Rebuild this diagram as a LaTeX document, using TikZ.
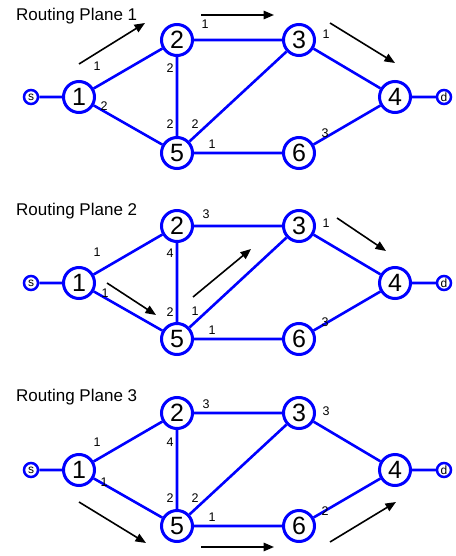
\documentclass[tikz,border=0pt]{standalone}
\usepackage{fontspec}
\setmainfont{Liberation Sans}
\usetikzlibrary{arrows.meta}
\definecolor{netblue}{RGB}{0,0,255}
\tikzset{
  bignode/.style={circle,draw=netblue,line width=3pt,fill=white,minimum size=31pt,inner sep=0pt,font=\fontsize{25}{25}\selectfont},
  endnode/.style={circle,draw=netblue,line width=2.5pt,fill=white,minimum size=14pt,inner sep=0pt,font=\fontsize{12}{12}\selectfont},
  link/.style={draw=netblue,line width=2.6pt},
  wlabel/.style={inner sep=0pt,font=\fontsize{12.5}{12.5}\selectfont},
  title/.style={inner sep=0pt,anchor=base west,font=\fontsize{17}{17}\selectfont},
  flow/.style={draw=black,line width=1.6pt,-{Triangle[length=10.5pt,width=8.5pt]}}
}
\newcommand{\planegraph}[1]{%
  \node[endnode] (#1s) at (31,97) {s};
  \node[bignode] (#1a) at (79,97) {1};
  \node[bignode] (#1b) at (177,40) {2};
  \node[bignode] (#1e) at (177,153) {5};
  \node[bignode] (#1c) at (299,40) {3};
  \node[bignode] (#1f) at (299,153) {6};
  \node[bignode] (#1d) at (395,97) {4};
  \node[endnode] (#1t) at (444,97) {d};
  \path[link] (#1s) -- (#1a) (#1a) -- (#1b) (#1a) -- (#1e) (#1b) -- (#1c)
    (#1b) -- (#1e) (#1e) -- (#1c) (#1e) -- (#1f) (#1c) -- (#1d)
    (#1f) -- (#1d) (#1d) -- (#1t);
}
\begin{document}
\begin{tikzpicture}[x=1pt,y=-1pt]
\useasboundingbox (0,0) rectangle (455,556);
% Plane 1
\begin{scope}
  \planegraph{p}
  \node[title] (pt) at (16,20.5) {Routing Plane 1};
  \node[wlabel] (pl1) at (97,66) {1};
  \node[wlabel] (pl2) at (104,106) {2};
  \node[wlabel] (pl3) at (170,68) {2};
  \node[wlabel] (pl4) at (170,124) {2};
  \node[wlabel] (pl5) at (195,124) {2};
  \node[wlabel] (pl6) at (212,144) {1};
  \node[wlabel] (pl7) at (205,24) {1};
  \node[wlabel] (pl8) at (326,34) {1};
  \node[wlabel] (pl9) at (325,133) {3};
  \coordinate (pa1) at (79,64); \coordinate (pa2) at (145,23);
  \coordinate (pb1) at (201,15); \coordinate (pb2) at (274,15);
  \coordinate (pc1) at (330,23); \coordinate (pc2) at (395,63);
  \draw[flow] (pa1) -- (pa2);
  \draw[flow] (pb1) -- (pb2);
  \draw[flow] (pc1) -- (pc2);
\end{scope}
% Plane 2
\begin{scope}[yshift=-186pt]
  \planegraph{q}
  \node[title] (qt) at (16,29.7) {Routing Plane 2};
  \node[wlabel] (ql1) at (206,28) {3};
  \node[wlabel] (ql2) at (97,66) {1};
  \node[wlabel] (ql3) at (105,107) {1};
  \node[wlabel] (ql4) at (170,67) {4};
  \node[wlabel] (ql5) at (170,126) {2};
  \node[wlabel] (ql6) at (195,125) {1};
  \node[wlabel] (ql7) at (212,144) {1};
  \node[wlabel] (ql8) at (326,37) {1};
  \node[wlabel] (ql9) at (325,136) {3};
  \coordinate (qa1) at (107,97); \coordinate (qa2) at (156,129);
  \coordinate (qb1) at (193,111); \coordinate (qb2) at (251,63);
  \coordinate (qc1) at (337,32); \coordinate (qc2) at (386,65);
  \draw[flow] (qa1) -- (qa2);
  \draw[flow] (qb1) -- (qb2);
  \draw[flow] (qc1) -- (qc2);
\end{scope}
% Plane 3
\begin{scope}[yshift=-373pt]
  \planegraph{r}
  \node[title] (rt) at (16,28.7) {Routing Plane 3};
  \node[wlabel] (rl1) at (206,31) {3};
  \node[wlabel] (rl2) at (97,69) {1};
  \node[wlabel] (rl3) at (104,109) {1};
  \node[wlabel] (rl4) at (170,69) {4};
  \node[wlabel] (rl5) at (170,125) {2};
  \node[wlabel] (rl6) at (195,125) {2};
  \node[wlabel] (rl7) at (212,144) {1};
  \node[wlabel] (rl8) at (326,38) {3};
  \node[wlabel] (rl9) at (325,138) {2};
  \coordinate (ra1) at (79,129); \coordinate (ra2) at (146,170);
  \coordinate (rb1) at (201,174); \coordinate (rb2) at (274,174);
  \coordinate (rc1) at (330,169); \coordinate (rc2) at (396,129);
  \draw[flow] (ra1) -- (ra2);
  \draw[flow] (rb1) -- (rb2);
  \draw[flow] (rc1) -- (rc2);
\end{scope}
\end{tikzpicture}
\end{document}
